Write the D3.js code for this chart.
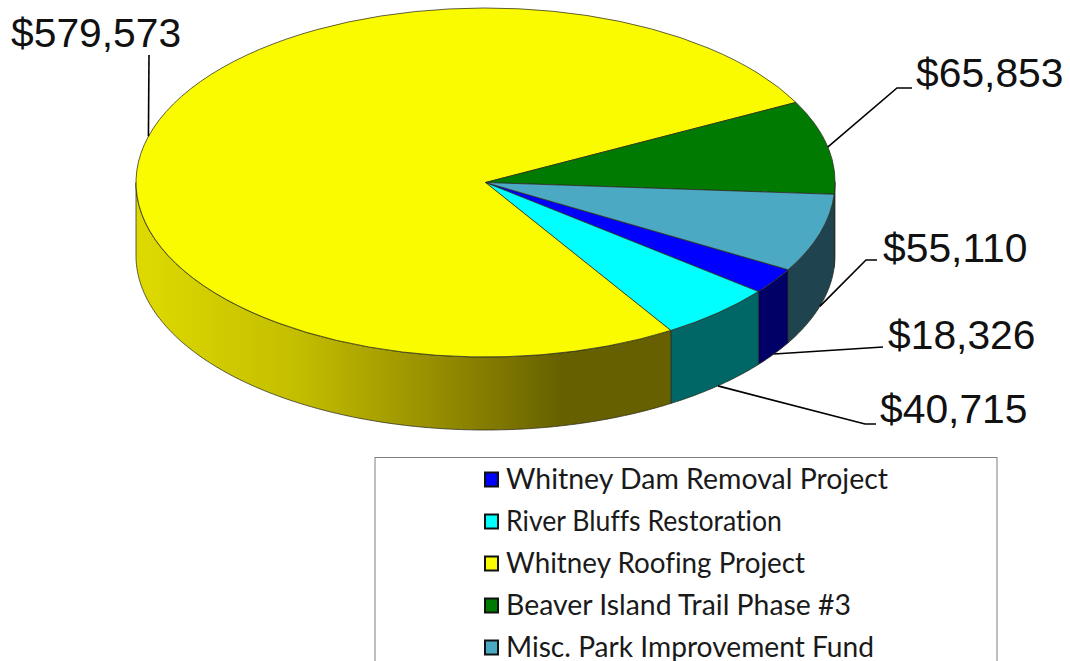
<!DOCTYPE html>
<html>
<head>
<meta charset="utf-8">
<script src="https://cdn.jsdelivr.net/npm/d3@7"></script>
<style>
    html, body { margin: 0; padding: 0; background: #fff; overflow: hidden; }
    svg { display: block; }
    .value-label { font-family: "Liberation Sans", Arial, sans-serif; font-size: 40.8px; fill: #111; }
    .legend-label { font-family: "Lato", sans-serif; font-size: 28.5px; fill: #1a1a1a; font-variant-ligatures: none; }
    .leader { fill: none; stroke: #000; stroke-width: 1.6; }
    .top-slice, .wall { stroke: #2b2b1e; stroke-width: 1; stroke-opacity: 0.75; vector-effect: non-scaling-stroke; }
</style>
</head>
<body>
<svg id="chart" width="1070" height="661"></svg>
<script>
// chart data, legend order is the slice order
const categories = ["Whitney Dam Removal Project", "River Bluffs Restoration", "Whitney Roofing Project", "Beaver Island Trail Phase #3", "Misc. Park Improvement Fund"];
const amounts = [18326, 40715, 579573, 65853, 55110];
const topColors = ["#0000ff", "#00ffff", "#fbfb00", "#007a00", "#4ba9c4"];
const wallColors = ["#000066", "#006666", "url(#yellowWall)", "#003c00", "#1f4450"];

// label layout, same order as categories
const labelX = [888, 880, 11, 916, 883];
const labelY = [349, 423, 47, 87, 262];
const elbowX = [883, 865, 149, 897, 866];
const elbowY = [347, 424, 55, 88, 260];
const leaderEndX = [883, 876, 149, 912, 877];
const onWallBottom = [true, true, false, false, true];
const legendTextWidth = [382, 276, 299, 345, 368];

const cx = 485.5, cy = 182.5, rx = 349.5, ry = 174.5, depth = 73;

const svg = d3.select("#chart");
const fmt = d3.format("$,");
const color = d3.scaleOrdinal().domain(categories).range(topColors);
const wallColor = d3.scaleOrdinal().domain(categories).range(wallColors);

const defs = svg.append("defs");
const grad = defs.append("linearGradient")
    .attr("id", "yellowWall")
    .attr("gradientUnits", "userSpaceOnUse")
    .attr("x1", cx - rx).attr("x2", cx + 185).attr("y1", 0).attr("y2", 0);
grad.append("stop").attr("offset", "0").attr("stop-color", "#dedA00");
grad.append("stop").attr("offset", "0.3").attr("stop-color", "#c4be00");
grad.append("stop").attr("offset", "0.55").attr("stop-color", "#989000");
grad.append("stop").attr("offset", "0.8").attr("stop-color", "#666000");
grad.append("stop").attr("offset", "1").attr("stop-color", "#666000");

const startAngle = 120 * Math.PI / 180;
const pie = d3.pie().sort(null).startAngle(startAngle).endAngle(startAngle + 2 * Math.PI);
const slices = pie(amounts).map((d, i) => ({ ...d, name: categories[i], i: i }));

// d3 angles: 0 is north, clockwise
const px = a => cx + rx * Math.sin(a);
const py = a => cy - ry * Math.cos(a);

// the near side of the rim runs from east to west, so PI/2 .. 3PI/2 in a full turn
function wallRange(d) {
    const lo = Math.PI / 2, hi = 3 * Math.PI / 2;
    for (const shift of [0, 2 * Math.PI]) {
        const a0 = Math.max(d.startAngle, lo + shift);
        const a1 = Math.min(d.endAngle, hi + shift);
        if (a1 > a0) return [a0, a1];
    }
    return null;
}

const wallArea = d3.area().x(a => px(a)).y0(a => py(a)).y1(a => py(a) + depth);

svg.append("g").selectAll(".wall")
    .data(slices.filter(d => wallRange(d)))
    .enter().append("path")
    .attr("class", "wall")
    .attr("fill", d => wallColor(d.name))
    .attr("d", d => {
        const r = wallRange(d);
        const n = Math.ceil((r[1] - r[0]) / 0.01);
        return wallArea(d3.range(n + 1).map(k => r[0] + (r[1] - r[0]) * k / n));
    });

const arc = d3.arc().innerRadius(0).outerRadius(rx);
svg.append("g")
    .attr("transform", `translate(${cx},${cy}) scale(1,${ry / rx})`)
    .selectAll(".top-slice")
    .data(slices)
    .enter().append("path")
    .attr("class", "top-slice")
    .attr("fill", d => color(d.name))
    .attr("d", arc);

// leader lines start on the rim at the middle of each slice
const leaderLine = d3.line();
svg.append("g").selectAll(".leader")
    .data(slices)
    .enter().append("path")
    .attr("class", "leader")
    .attr("d", d => {
        const mid = (d.startAngle + d.endAngle) / 2;
        const sy = py(mid) + (onWallBottom[d.i] ? depth : 0);
        return leaderLine([[px(mid), sy], [elbowX[d.i], elbowY[d.i]], [leaderEndX[d.i], elbowY[d.i]]]);
    });

svg.append("g").selectAll(".value-label")
    .data(slices)
    .enter().append("text")
    .attr("class", "value-label")
    .attr("x", d => labelX[d.i])
    .attr("y", d => labelY[d.i])
    .text(d => fmt(d.value));

// legend box runs off the bottom of the picture
svg.append("rect")
    .attr("x", 375).attr("y", 457.5)
    .attr("width", 622).attr("height", 260)
    .attr("fill", "none").attr("stroke", "#7f7f7f").attr("stroke-width", 1);

const legendY = d3.scalePoint().domain(categories).range([479, 647]);
const legend = svg.append("g").selectAll(".legend-item")
    .data(categories)
    .enter().append("g")
    .attr("class", "legend-item")
    .attr("transform", d => `translate(484,${legendY(d)})`);

legend.append("rect")
    .attr("x", 1).attr("y", -6.5)
    .attr("width", 13).attr("height", 14)
    .attr("fill", d => color(d))
    .attr("stroke", "#111").attr("stroke-width", 2);

legend.append("text")
    .attr("class", "legend-label")
    .attr("x", 22).attr("y", 9.5)
    .attr("textLength", (d, i) => legendTextWidth[i])
    .attr("lengthAdjust", "spacingAndGlyphs")
    .text(d => d);
</script>
</body>
</html>
